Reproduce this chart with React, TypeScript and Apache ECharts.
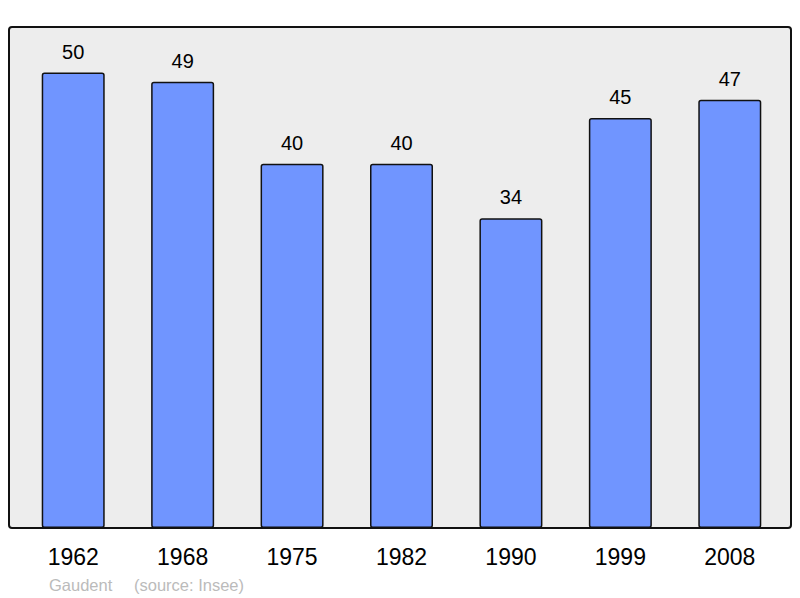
import React, { useEffect, useRef } from "react";
import * as echarts from "echarts";

const years = ["1962", "1968", "1975", "1982", "1990", "1999", "2008"];
const population = [50, 49, 40, 40, 34, 45, 47];
const yMax = 55;

const FONT = "Liberation Sans, Arial, sans-serif";

export default function App() {
  const ref = useRef<HTMLDivElement>(null);
  useEffect(() => {
    if (!ref.current) return;
    const chart = echarts.init(ref.current, null, { renderer: "svg" });
    chart.setOption({
      animation: false,
      textStyle: { fontFamily: FONT },
      grid: { left: 18.5, right: 15.5, top: 27, bottom: 70 },
      graphic: [
        {
          type: "rect",
          z: 0,
          shape: { x: 9, y: 27, width: 782, height: 501, r: 3 },
          style: { fill: "#ededed", stroke: "#111111", lineWidth: 2 },
          silent: true,
        },
        {
          type: "text",
          x: 49,
          y: 585,
          style: {
            text: "Gaudent",
            fill: "#bbbbbb",
            fontSize: 16.5,
            fontFamily: FONT,
            verticalAlign: "middle",
          },
        },
        {
          type: "text",
          x: 134,
          y: 585,
          style: {
            text: "(source: Insee)",
            fill: "#bbbbbb",
            fontSize: 16.5,
            fontFamily: FONT,
            verticalAlign: "middle",
          },
        },
      ],
      xAxis: {
        type: "category",
        data: years,
        axisLine: { show: false },
        axisTick: { show: false },
        axisLabel: {
          color: "#000",
          fontSize: 23,
          margin: 17,
          fontFamily: FONT,
        },
      },
      yAxis: {
        type: "value",
        min: 0,
        max: yMax,
        show: false,
        splitLine: { show: false },
      },
      series: [
        {
          type: "bar",
          data: population,
          barWidth: 63,
          itemStyle: {
            color: "#7095ff",
            borderColor: "#111111",
            borderWidth: 1.5,
            borderRadius: 2,
          },
          label: {
            show: true,
            position: "top",
            distance: 11,
            color: "#000",
            fontSize: 20,
            fontFamily: FONT,
          },
        },
      ],
    });
    return () => chart.dispose();
  }, []);
  return (
    <div
      ref={ref}
      style={{ position: "fixed", left: 0, top: 0, width: 800, height: 598, background: "#fff" }}
    />
  );
}
